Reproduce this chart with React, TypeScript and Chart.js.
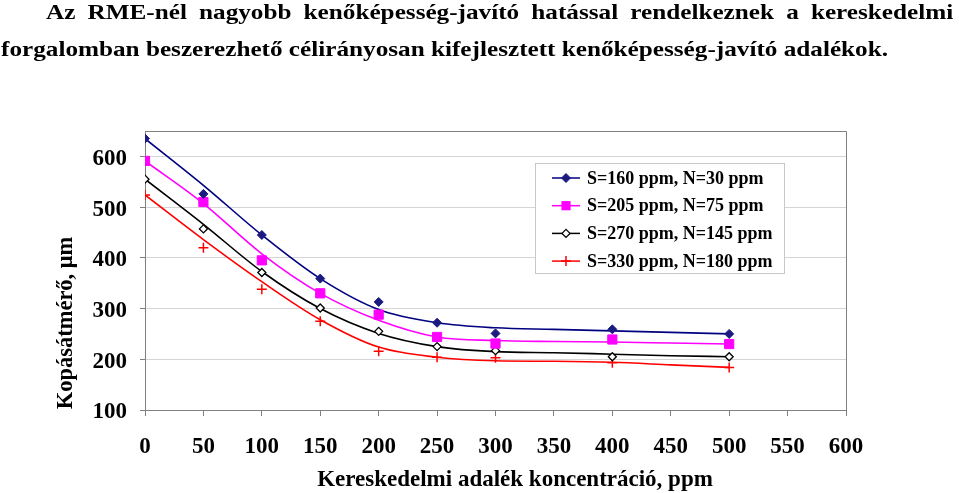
import React, { useEffect, useRef } from "react";
import { Chart, registerables } from "chart.js";

Chart.register(...registerables);

const SERIF = "'Liberation Serif', 'Times New Roman', serif";

const titleLine1 = "Az RME-nél nagyobb kenőképesség-javító hatással rendelkeznek a kereskedelmi";
const titleLine2 = "forgalomban beszerezhető célirányosan kifejlesztett kenőképesség-javító adalékok.";
const xAxisTitle = "Kereskedelmi adalék koncentráció, ppm";
const yAxisTitle = "Kopásátmérő, μm";

const seriesNames = [
  "S=160 ppm, N=30 ppm",
  "S=205 ppm, N=75 ppm",
  "S=270 ppm, N=145 ppm",
  "S=330 ppm, N=180 ppm",
];
const seriesColors = ["#000080", "#ff00ff", "#000000", "#ff0000"];

// measured points
const pointX = [0, 50, 100, 150, 200, 250, 300, 400, 500];
const s1Points = [635, 526, 445, 359, 313, 272, 251, 259, 250];
const s2Points = [591, 510, 395, 330, 288, 244, 231, 239, 230];
const s3Points = [555, 457, 371, 301, 255, 225, 217, 205, 205];
const s4Points = [524, 420, 338, 275, 216, 204, 203, 193, 184];

// fitted trend curves
const curveX = [0, 50, 100, 150, 200, 250, 300, 350, 400, 450, 500];
const s1Curve = [635, 543, 445, 359, 298, 272, 262, 259, 256, 253, 250];
const s2Curve = [591, 507, 408, 330, 277, 244, 237, 235, 234, 232, 230];
const s3Curve = [555, 466, 373, 300, 251, 225, 215, 213, 210, 207, 205];
const s4Curve = [524, 436, 353, 278, 224, 204, 197, 196, 194, 189, 184];

const xTicks = [0, 50, 100, 150, 200, 250, 300, 350, 400, 450, 500, 550, 600];
const yTicks = [100, 200, 300, 400, 500, 600];

const pointSets = [s1Points, s2Points, s3Points, s4Points];
const curveSets = [s1Curve, s2Curve, s3Curve, s4Curve];

type Marker = { style: string; radius: number; fill: string; stroke: string; width: number };
const markers: Marker[] = [
  { style: "rectRot", radius: 4.5, fill: "#1a1a80", stroke: "#1a1a80", width: 1 },
  { style: "rect", radius: 6.5, fill: "#ff00ff", stroke: "#ff00ff", width: 1 },
  { style: "rectRot", radius: 4, fill: "#ffffff", stroke: "#000000", width: 1.3 },
  { style: "cross", radius: 5, fill: "#ff0000", stroke: "#ff0000", width: 1.5 },
];

function drawMarker(ctx: CanvasRenderingContext2D, m: Marker, x: number, y: number) {
  ctx.save();
  ctx.beginPath();
  ctx.lineWidth = m.width;
  ctx.strokeStyle = m.stroke;
  ctx.fillStyle = m.fill;
  const r = m.radius;
  if (m.style === "rectRot") {
    ctx.moveTo(x, y - r);
    ctx.lineTo(x + r, y);
    ctx.lineTo(x, y + r);
    ctx.lineTo(x - r, y);
    ctx.closePath();
    ctx.fill();
    ctx.stroke();
  } else if (m.style === "rect") {
    const s = r * Math.SQRT1_2;
    ctx.rect(x - s, y - s, 2 * s, 2 * s);
    ctx.fill();
  } else {
    ctx.moveTo(x - r, y);
    ctx.lineTo(x + r, y);
    ctx.moveTo(x, y - r);
    ctx.lineTo(x, y + r);
    ctx.stroke();
  }
  ctx.restore();
}

const decorPlugin = {
  id: "decor",
  afterDraw(chart: any) {
    const ctx: CanvasRenderingContext2D = chart.ctx;
    const a = chart.chartArea;
    ctx.save();
    // plot border (top/right)
    ctx.strokeStyle = "#808080";
    ctx.lineWidth = 1;
    ctx.beginPath();
    ctx.moveTo(Math.round(a.left) + 0.5, Math.round(a.top) + 0.5);
    ctx.lineTo(Math.round(a.right) + 0.5, Math.round(a.top) + 0.5);
    ctx.lineTo(Math.round(a.right) + 0.5, Math.round(a.bottom) + 0.5);
    ctx.stroke();

    // axis titles
    ctx.fillStyle = "#000";
    ctx.textAlign = "center";
    ctx.textBaseline = "middle";
    ctx.font = `bold 23px ${SERIF}`;
    ctx.fillText(xAxisTitle, a.left + 370, a.bottom + 70);
    ctx.save();
    ctx.font = `bold 22.5px ${SERIF}`;
    ctx.translate(66, a.top + 192);
    ctx.rotate(-Math.PI / 2);
    ctx.fillText(yAxisTitle, 0, 0);
    ctx.restore();

    // legend
    const lx = a.left + 390;
    const ly = a.top + 32;
    const lw = 249;
    const lh = 110;
    ctx.fillStyle = "#ffffff";
    ctx.fillRect(lx, ly, lw, lh);
    ctx.strokeStyle = "#c8c8c8";
    ctx.strokeRect(lx + 0.5, ly + 0.5, lw, lh);
    ctx.font = `bold 18px ${SERIF}`;
    ctx.textAlign = "left";
    ctx.textBaseline = "middle";
    seriesNames.forEach((name, i) => {
      const y = ly + 15 + i * 27.7;
      ctx.strokeStyle = seriesColors[i];
      ctx.lineWidth = 1.5;
      ctx.beginPath();
      ctx.moveTo(lx + 17, y);
      ctx.lineTo(lx + 45, y);
      ctx.stroke();
      drawMarker(ctx, markers[i], lx + 31, y);
      ctx.fillStyle = "#000";
      ctx.fillText(name, lx + 52, y + 1);
    });
    ctx.restore();
  },
};

export default function App() {
  const canvasRef = useRef<HTMLCanvasElement | null>(null);

  useEffect(() => {
    const canvas = canvasRef.current;
    if (!canvas) return;

    const pointDatasets = pointSets.map((vals, i) => ({
      label: seriesNames[i],
      data: pointX.map((x, j) => ({ x, y: vals[j] })),
      showLine: false,
      pointStyle: markers[i].style,
      pointRadius: markers[i].radius,
      pointBackgroundColor: markers[i].fill,
      pointBorderColor: markers[i].stroke,
      pointBorderWidth: markers[i].width,
      borderColor: seriesColors[i],
      backgroundColor: markers[i].fill,
    }));
    const curveDatasets = curveSets.map((vals, i) => ({
      label: seriesNames[i] + " trend",
      data: curveX.map((x, j) => ({ x, y: vals[j] })),
      showLine: true,
      pointRadius: 0,
      borderColor: seriesColors[i],
      borderWidth: 1.6,
      cubicInterpolationMode: "monotone",
      fill: false,
    }));

    const chart = new Chart(canvas, {
      type: "scatter",
      data: { datasets: [...pointDatasets, ...curveDatasets] as any },
      options: {
        animation: false,
        responsive: false,
        devicePixelRatio: 1,
        layout: { padding: { top: 131, right: 113, left: 0, bottom: 0 } },
        plugins: { legend: { display: false }, tooltip: { enabled: false } },
        scales: {
          x: {
            type: "linear",
            min: 0,
            max: 600,
            afterBuildTicks: (s: any) => {
              s.ticks = xTicks.map((v) => ({ value: v }));
            },
            afterFit: (s: any) => {
              s.height = 83;
            },
            ticks: {
              stepSize: 50,
              autoSkip: false,
              maxRotation: 0,
              padding: 17,
              color: "#000",
              font: { family: SERIF, size: 23, weight: "bold" },
            },
            grid: { drawOnChartArea: false, drawTicks: true, tickLength: 6, color: "#808080" },
            border: { color: "#808080", width: 1 },
          },
          y: {
            type: "linear",
            min: 100,
            max: 650,
            afterBuildTicks: (s: any) => {
              s.ticks = yTicks.map((v) => ({ value: v }));
            },
            afterFit: (s: any) => {
              s.width = 145;
            },
            ticks: {
              stepSize: 100,
              padding: 13,
              labelOffset: 2.5,
              color: "#000",
              font: { family: SERIF, size: 23, weight: "bold" },
            },
            grid: { color: "#d4d4d4", tickColor: "#808080", tickLength: 5, lineWidth: 1 },
            border: { color: "#808080", width: 1 },
          },
        },
      } as any,
      plugins: [decorPlugin],
    });
    return () => chart.destroy();
  }, []);

  const titleStyle: React.CSSProperties = {
    position: "absolute",
    fontFamily: SERIF,
    fontWeight: "bold",
    fontSize: 21,
    lineHeight: "24px",
    whiteSpace: "nowrap",
    color: "#000",
    transform: "scaleX(1.2)",
    transformOrigin: "0 0",
  };

  return (
    <div style={{ position: "fixed", left: 0, top: 0, width: 959, height: 493, background: "#fff" }}>
      <canvas ref={canvasRef} width={959} height={493} style={{ position: "absolute", left: 0, top: 0 }} />
      <div
        style={{
          ...titleStyle,
          left: 46,
          top: 0,
          width: 756,
          whiteSpace: "normal",
          textAlign: "justify",
          textAlignLast: "justify",
        }}
      >
        {titleLine1}
      </div>
      <div style={{ ...titleStyle, left: 1, top: 37 }}>{titleLine2}</div>
    </div>
  );
}
